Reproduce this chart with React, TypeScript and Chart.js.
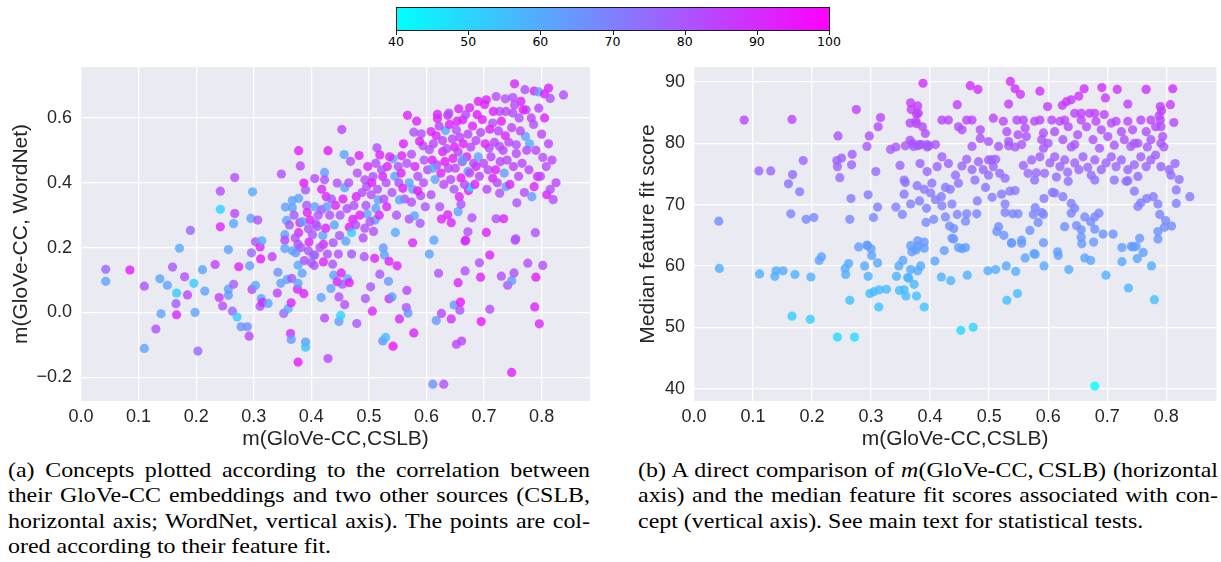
import React, { useEffect, useRef } from 'react';
import { Chart, registerables } from 'chart.js';

Chart.register(...registerables);

const SANS = '"Liberation Sans", Arial, sans-serif';
const SERIF = '"Liberation Serif", "Times New Roman", serif';
const TEXT = '#262626';

// colour bar (feature fit)
const cbMin = 40;
const cbMax = 100;
const cbTicks = [40, 50, 60, 70, 80, 90, 100];

// axes
const xTicks = [0, 0.1, 0.2, 0.3, 0.4, 0.5, 0.6, 0.7, 0.8];
const aYTicks = [-0.2, 0, 0.2, 0.4, 0.6];
const bYTicks = [40, 50, 60, 70, 80, 90];
const aXRange = [0, 0.884];
const aYRange = [-0.273, 0.757];
const bXRange = [0, 0.885];
const bYRange = [37.97, 92.45];

const xTitle = 'm(GloVe-CC,CSLB)';
const aYTitle = 'm(GloVe-CC, WordNet)';
const bYTitle = 'Median feature fit score';

// Panel (a): [m(GloVe-CC,CSLB), m(GloVe-CC,WordNet), feature fit]
const aLeft: number[][] = [
  [0.043,0.133,76],[0.043,0.096,62],[0.085,0.131,94],[0.110,0.081,80],[0.110,-0.111,62],[0.130,-0.051,82],[0.137,0.104,62],[0.139,-0.004,62],[0.150,0.084,62],[0.159,0.140,80],[0.165,0.027,78],[0.166,-0.007,92],[0.166,0.060,52],[0.171,0.198,60],[0.180,0.110,82],[0.185,0.054,84],[0.190,0.253,76],[0.196,0.090,52],[0.198,0.000,62],[0.203,-0.119,76],[0.211,0.132,62],[0.215,0.066,62],[0.233,0.148,85],[0.240,0.046,87],[0.242,0.374,82],[0.242,0.318,50],[0.242,0.264,92],[0.246,0.020,82],[0.256,0.194,62],[0.256,0.072,62],[0.256,0.053,64],[0.263,0.004,76],[0.265,0.087,78],[0.265,0.274,60],[0.267,0.416,82],[0.267,0.305,84],[0.271,-0.014,52],[0.274,0.141,92],[0.278,-0.044,66],[0.289,-0.044,66],[0.292,-0.073,84],[0.293,0.144,64],[0.295,0.290,62],[0.296,0.184,76],[0.297,0.071,84],[0.298,0.372,60],[0.303,0.084,60],[0.303,0.218,80],[0.307,0.285,82],[0.311,0.019,80],[0.311,0.202,92],[0.312,0.165,94],[0.313,0.043,60],[0.314,0.221,60],[0.315,0.031,92],[0.325,0.028,62],[0.332,0.172,85],[0.341,0.060,85],[0.342,0.124,66],[0.347,0.090,62],[0.348,0.427,82],
];
const aMid: number[][] = [
  [0.352,-0.003,76],[0.354,0.240,62],[0.354,0.223,84],[0.354,0.197,62],[0.357,0.284,62],[0.358,0.102,62],[0.360,0.012,60],[0.364,-0.065,90],[0.365,-0.083,64],[0.365,0.030,92],[0.366,0.105,80],[0.367,0.323,62],[0.367,0.345,62],[0.367,0.190,62],[0.373,0.184,64],[0.376,0.072,92],[0.377,-0.153,94],[0.377,0.146,60],[0.377,0.090,62],[0.377,0.210,82],[0.378,0.352,62],[0.378,0.246,92],[0.378,0.499,94],[0.380,0.277,90],[0.381,0.452,84],[0.384,0.121,62],[0.387,0.058,92],[0.387,0.399,96],[0.390,-0.091,64],[0.390,-0.107,54],[0.390,0.378,80],[0.392,0.330,80],[0.393,0.308,92],[0.395,0.258,80],[0.396,0.217,92],[0.400,0.153,80],[0.403,0.177,64],[0.406,0.413,82],[0.406,0.326,62],[0.406,0.177,80],[0.408,0.273,82],[0.410,0.265,80],[0.417,0.046,62],[0.418,0.317,80],[0.420,0.237,62],[0.421,0.156,92],[0.421,0.210,92],[0.423,0.432,62],[0.423,0.409,82],[0.423,-0.017,84],[0.426,0.357,92],[0.427,0.326,62],[0.429,0.499,94],[0.429,-0.142,84],[0.434,0.074,62],[0.437,0.149,80],[0.439,0.115,62],[0.445,0.095,92],[0.445,0.399,82],[0.448,0.048,82],[0.448,-0.028,64],[0.449,0.237,80],[0.451,-0.009,50],[0.452,0.122,92],[0.453,0.564,85],[0.454,0.087,80],[0.457,0.487,62],[0.458,0.385,62],[0.458,0.024,82],[0.463,0.104,60],[0.466,0.092,94],[0.466,0.263,94],[0.468,0.466,82],[0.470,0.246,52],[0.472,0.287,94],[0.478,0.357,94],[0.479,-0.034,80],[0.483,0.484,92],[0.492,0.172,80],[0.493,0.409,82],[0.493,0.260,82],[0.494,0.043,80],[0.496,0.388,82],[0.497,0.304,62],[0.503,0.079,80],[0.504,0.363,82],[0.506,0.004,92],[0.507,0.419,82],[0.510,0.167,92],[0.511,0.285,62],[0.512,0.321,62],[0.514,0.508,82],[0.516,0.347,62],[0.519,0.118,80],[0.519,0.486,92],[0.524,-0.088,66],[0.524,0.419,92],[0.525,0.199,64],[0.527,0.177,62],[0.529,-0.077,56],[0.531,0.326,92],[0.532,0.450,92],[0.534,0.096,64],[0.535,0.042,92],[0.535,0.158,92],[0.540,0.048,64],[0.542,-0.104,96],[0.542,0.474,62],[0.546,0.247,60],[0.549,0.144,92],
];
const aRight: number[][] = [
  [0.551,0.450,82],[0.553,-0.020,90],[0.553,0.347,62],[0.557,0.483,92],[0.559,0.383,92],[0.565,0.015,82],[0.566,0.068,84],[0.567,0.608,92],[0.568,-0.002,66],[0.570,0.288,82],[0.574,0.488,82],[0.576,0.380,62],[0.576,0.215,92],[0.578,-0.063,92],[0.578,0.556,82],[0.579,0.298,62],[0.583,0.590,92],[0.585,0.375,94],[0.589,0.275,80],[0.591,0.551,82],[0.594,0.514,82],[0.598,0.326,80],[0.605,0.502,82],[0.605,0.180,62],[0.608,0.558,92],[0.608,0.363,82],[0.611,-0.221,66],[0.613,0.223,62],[0.617,-0.025,64],[0.617,0.545,92],[0.619,0.611,92],[0.619,0.598,92],[0.621,0.121,82],[0.623,0.326,82],[0.626,-0.003,84],[0.626,0.288,92],[0.628,0.496,92],[0.630,-0.221,82],[0.633,0.561,60],[0.637,0.608,92],[0.637,0.301,92],[0.639,0.615,82],[0.643,-0.020,90],[0.643,0.277,92],[0.648,0.023,64],[0.649,0.510,94],[0.652,0.563,82],[0.652,-0.098,84],[0.655,0.092,92],[0.655,0.311,62],[0.656,0.628,92],[0.657,0.357,92],[0.658,0.007,82],[0.659,0.032,96],[0.660,0.334,82],[0.661,-0.088,84],[0.663,0.594,92],[0.667,0.220,82],[0.667,0.128,82],[0.668,0.223,92],[0.672,0.249,82],[0.672,0.435,62],[0.673,0.376,94],[0.675,0.631,92],[0.676,0.387,42],[0.679,0.292,82],[0.686,0.450,92],[0.690,0.651,92],[0.692,0.153,82],[0.694,0.109,92],[0.695,-0.028,96],[0.701,0.641,92],[0.704,0.656,92],[0.704,0.247,92],[0.709,0.507,82],[0.710,0.177,92],[0.710,0.010,82],[0.715,0.414,92],[0.715,0.584,82],[0.721,0.666,82],[0.721,0.289,82],[0.727,0.620,82],[0.727,0.512,82],[0.727,0.368,82],[0.730,0.112,82],[0.734,0.289,92],[0.737,0.659,82],[0.737,0.545,92],[0.738,0.388,62],[0.741,0.084,80],[0.748,0.098,64],[0.748,-0.185,92],[0.750,0.663,82],[0.750,0.615,82],[0.752,0.122,82],[0.753,0.705,92],[0.754,0.223,82],[0.755,0.227,82],[0.756,0.517,82],[0.757,0.338,82],[0.761,0.600,82],[0.764,0.651,92],[0.770,0.370,82],[0.771,0.687,82],[0.772,0.543,62],[0.773,0.625,82],[0.776,0.152,82],[0.779,0.520,60],[0.783,0.357,64],[0.786,0.580,82],[0.787,0.683,92],[0.787,0.388,92],[0.788,0.017,92],[0.789,0.246,82],[0.790,0.109,94],[0.793,0.419,92],[0.795,0.680,62],[0.796,-0.035,92],[0.802,0.145,82],[0.802,0.478,82],[0.805,0.674,92],[0.808,0.450,82],[0.809,0.363,94],[0.812,0.692,92],[0.815,0.660,82],[0.815,0.380,82],[0.820,0.348,82],[0.838,0.671,82],
];
const aDenseMid: number[][] = [
  [0.355,0.325,62],[0.362,0.270,80],[0.370,0.300,80],[0.372,0.230,82],[0.382,0.200,80],[0.385,0.280,62],[0.388,0.160,80],[0.395,0.190,80],[0.398,0.285,92],[0.402,0.240,80],[0.405,0.145,80],[0.412,0.300,80],[0.415,0.200,82],[0.418,0.380,92],[0.425,0.260,92],[0.428,0.180,82],[0.432,0.300,82],[0.435,0.350,80],[0.438,0.215,80],[0.440,0.270,62],[0.442,0.330,92],[0.447,0.180,82],[0.450,0.300,82],[0.455,0.350,92],[0.460,0.220,62],[0.462,0.320,82],[0.465,0.400,82],[0.470,0.180,80],[0.474,0.330,82],[0.477,0.270,82],[0.480,0.430,82],[0.484,0.300,92],[0.488,0.370,82],[0.490,0.230,82],[0.495,0.330,82],[0.498,0.450,92],[0.502,0.280,82],[0.505,0.400,92],[0.508,0.250,82],[0.512,0.460,82],[0.515,0.380,82],[0.518,0.300,92],[0.522,0.440,82],[0.526,0.350,82],[0.530,0.400,82],[0.536,0.480,92],[0.540,0.370,82],[0.545,0.420,62],[0.548,0.300,82],[0.552,0.400,82],[0.556,0.430,92],[0.562,0.350,82],[0.566,0.460,82],[0.570,0.400,62],[0.574,0.340,82],[0.580,0.450,92],[0.585,0.420,82],[0.590,0.360,82],[0.595,0.400,82],
];
const aDenseRight: number[][] = [
  [0.560,0.520,93],[0.588,0.528,93],[0.596,0.470,80],[0.602,0.440,84],[0.610,0.470,93],[0.612,0.520,84],[0.615,0.410,62],[0.618,0.455,84],[0.622,0.575,84],[0.625,0.430,93],[0.628,0.530,84],[0.630,0.395,84],[0.632,0.465,95],[0.635,0.505,84],[0.638,0.445,84],[0.640,0.580,93],[0.642,0.410,84],[0.645,0.535,84],[0.646,0.475,93],[0.648,0.380,80],[0.650,0.445,84],[0.653,0.590,93],[0.655,0.495,84],[0.658,0.540,84],[0.660,0.415,95],[0.662,0.465,84],[0.664,0.520,93],[0.666,0.395,84],[0.668,0.610,84],[0.670,0.480,93],[0.672,0.550,84],[0.675,0.430,84],[0.677,0.510,84],[0.680,0.575,93],[0.682,0.460,84],[0.684,0.395,93],[0.686,0.530,84],[0.688,0.610,95],[0.690,0.480,62],[0.692,0.420,84],[0.694,0.555,84],[0.697,0.595,93],[0.699,0.460,84],[0.702,0.520,93],[0.705,0.380,84],[0.707,0.440,84],[0.710,0.565,93],[0.712,0.480,84],[0.716,0.620,93],[0.718,0.525,84],[0.720,0.440,93],[0.723,0.400,84],[0.725,0.560,84],[0.728,0.465,84],[0.730,0.590,93],[0.733,0.500,84],[0.735,0.430,64],[0.738,0.620,84],[0.740,0.470,84],[0.743,0.525,84],[0.745,0.395,93],[0.748,0.570,84],[0.751,0.450,84],[0.753,0.640,84],[0.756,0.490,84],[0.760,0.420,84],[0.763,0.560,84],[0.766,0.460,84],[0.768,0.625,93],[0.774,0.500,84],[0.778,0.440,84],[0.782,0.600,84],[0.790,0.500,84],[0.795,0.630,84],[0.798,0.420,84],[0.800,0.550,84],[0.805,0.600,93],[0.812,0.520,84],[0.818,0.470,84],[0.825,0.400,84],[0.663,0.471,62],[0.611,0.445,62],
];

// Panel (b): [m(GloVe-CC,CSLB), median feature fit score]
const bLeft: number[][] = [
  [0.042,67.3],[0.043,59.6],[0.085,83.8],[0.110,75.5],[0.111,58.7],[0.130,75.5],[0.137,58.3],[0.139,59.2],[0.151,59.2],[0.160,73.4],[0.164,68.5],[0.166,83.9],[0.166,51.8],[0.167,74.9],[0.171,58.6],[0.179,72.1],[0.185,77.2],[0.190,67.6],[0.197,51.3],[0.198,58.2],[0.203,67.9],[0.212,60.9],[0.216,61.5],[0.242,77.2],[0.243,48.4],[0.243,76.2],[0.244,81.2],[0.247,74.4],[0.250,77.6],[0.256,59.6],[0.257,58.6],[0.262,60.4],[0.264,54.4],[0.264,67.6],[0.266,71.0],[0.267,76.5],[0.268,78.2],[0.272,48.4],[0.275,85.5],[0.279,63.1],[0.289,60.0],[0.293,63.4],[0.293,79.5],[0.294,63.3],[0.295,58.3],[0.295,71.6],[0.297,81.2],[0.298,55.5],[0.300,62.8],[0.301,61.7],[0.304,67.9],[0.305,55.8],[0.308,75.4],[0.311,60.5],[0.311,69.6],[0.312,82.7],[0.313,53.3],[0.314,56.1],[0.316,84.2],[0.326,56.2],[0.333,79.0],[0.342,79.4],[0.342,69.6],[0.343,58.3],[0.347,60.0],[0.348,56.0],[0.349,76.4],[0.353,68.4],[0.354,60.9],[0.356,56.1],[0.356,74.0],[0.356,71.7],[0.358,73.6],[0.358,79.6],[0.359,55.1],[0.362,58.1],[0.364,58.0],[0.366,83.3],[0.366,80.5],[0.367,86.6],[0.367,70.1],[0.367,63.3],[0.367,59.4],[0.368,85.5],[0.369,62.3],[0.372,79.5],[0.373,57.0],[0.376,62.6],[0.377,55.1],[0.377,84.8],[0.377,83.2],[0.378,73.1],[0.379,86.1],[0.379,59.2],[0.379,63.2],[0.379,79.6],[0.379,64.1],[0.382,70.6],[0.383,76.7],[0.384,60.0],[0.385,79.8],[0.387,82.7],[0.388,89.8],[0.390,62.9],[0.390,53.3],[0.390,72.5],[0.390,63.9],[0.392,81.6],[0.393,67.1],[0.394,69.4],[0.395,75.4],[0.395,79.4],
];
const bLower: number[][] = [
  [0.401,71.9],[0.406,67.6],[0.408,60.8],[0.409,70.8],[0.419,58.2],[0.419,71.3],[0.420,69.8],[0.424,62.5],[0.426,68.0],[0.426,72.8],[0.433,66.5],[0.434,72.5],[0.435,57.6],[0.437,64.5],[0.437,70.1],[0.440,64.4],[0.440,66.1],[0.446,68.4],[0.448,63.0],[0.452,49.5],[0.454,62.8],[0.460,63.0],[0.460,67.3],[0.462,68.5],[0.463,58.5],[0.473,50.0],[0.479,68.5],[0.480,70.6],[0.494,72.8],[0.498,59.2],[0.505,71.2],[0.511,59.4],[0.513,65.6],[0.516,66.4],[0.521,71.7],[0.525,65.0],[0.527,70.1],[0.527,68.7],[0.529,60.0],[0.530,54.4],[0.535,72.2],[0.538,63.7],[0.538,63.8],[0.540,68.5],[0.544,72.3],[0.545,59.1],[0.548,55.5],[0.549,68.5],[0.555,64.2],[0.555,63.7],[0.561,61.3],[0.569,65.8],[0.575,68.4],[0.576,62.0],[0.578,69.5],[0.578,61.9],[0.583,67.1],[0.589,68.7],[0.592,63.8],[0.592,68.4],[0.593,60.0],[0.593,71.0],[0.607,72.0],[0.611,71.9],[0.616,62.3],[0.617,61.7],[0.625,71.3],[0.628,66.4],[0.635,59.4],[0.639,70.2],[0.639,68.6],[0.645,69.4],[0.648,66.6],[0.656,65.9],[0.656,64.7],[0.657,63.6],[0.662,61.3],[0.662,68.0],[0.672,60.9],[0.672,67.2],[0.677,63.9],[0.679,40.4],[0.679,68.0],[0.679,66.0],[0.686,68.6],[0.693,65.2],[0.698,58.5],[0.710,65.2],[0.725,60.7],[0.725,63.0],[0.732,73.8],[0.736,56.4],[0.741,63.2],[0.744,63.1],[0.746,72.2],[0.749,63.2],[0.751,61.2],[0.752,69.7],[0.755,64.5],[0.757,70.3],[0.761,62.2],[0.767,71.0],[0.775,60.0],[0.778,71.3],[0.780,54.5],[0.786,70.1],[0.786,65.6],[0.786,64.4],[0.789,68.4],[0.797,66.3],[0.799,67.4],[0.809,66.5],[0.815,76.7],[0.817,72.4],[0.817,70.2],[0.822,74.1],[0.840,71.3],
];
const bBand: number[][] = [
  [0.398,79.6],[0.412,76.2],[0.420,77.8],[0.431,76.7],[0.443,74.8],[0.454,76.3],[0.462,77.4],[0.471,75.7],[0.482,77.0],[0.490,75.7],[0.499,74.8],[0.507,76.2],[0.511,77.4],[0.518,75.1],[0.499,77.3],[0.533,79.6],[0.544,79.4],[0.558,76.4],[0.566,75.1],[0.572,77.3],[0.580,75.2],[0.586,77.8],[0.592,79.2],[0.594,75.1],[0.603,76.8],[0.611,77.8],[0.614,74.5],[0.620,76.2],[0.628,77.3],[0.633,75.3],[0.639,79.4],[0.645,76.8],[0.652,75.7],[0.659,77.8],[0.667,76.1],[0.673,74.8],[0.679,77.3],[0.687,79.2],[0.690,75.7],[0.698,76.8],[0.707,77.8],[0.712,74.0],[0.715,76.2],[0.724,77.3],[0.735,75.7],[0.740,79.5],[0.746,76.5],[0.752,74.6],[0.757,77.8],[0.766,76.2],[0.774,77.3],[0.782,78.1],[0.791,76.2],[0.796,79.4],[0.805,75.7],[0.808,74.8],[0.768,79.4],[0.735,73.9],[0.679,74.0],[0.634,73.8],[0.577,74.0],[0.527,74.3],[0.476,74.0],[0.448,73.5],[0.403,73.5],[0.504,77.3],
];
const bUpper: number[][] = [
  [0.370,80.0],[0.381,79.8],[0.395,79.8],[0.409,79.8],[0.420,83.8],[0.431,83.8],[0.448,82.7],[0.454,82.2],[0.462,83.8],[0.471,83.8],[0.485,82.2],[0.485,80.8],[0.499,80.3],[0.507,84.1],[0.516,79.5],[0.524,83.6],[0.530,81.9],[0.533,80.3],[0.547,83.8],[0.549,81.4],[0.558,83.8],[0.561,82.5],[0.563,81.1],[0.577,83.6],[0.586,83.8],[0.592,81.7],[0.600,80.0],[0.606,83.8],[0.611,81.9],[0.620,83.6],[0.625,80.6],[0.634,82.7],[0.645,84.9],[0.650,81.4],[0.656,83.8],[0.665,82.7],[0.670,84.9],[0.676,80.6],[0.681,83.6],[0.690,82.2],[0.695,84.7],[0.701,81.1],[0.707,83.3],[0.715,83.6],[0.724,81.9],[0.729,80.6],[0.735,83.6],[0.743,82.2],[0.752,80.0],[0.757,83.8],[0.766,81.9],[0.774,80.6],[0.782,82.7],[0.791,82.7],[0.794,81.1],[0.791,80.0],[0.774,83.8],[0.746,80.0],[0.679,84.9],[0.656,84.9],[0.628,83.8],[0.589,80.6],[0.645,79.8],[0.712,79.7],[0.555,79.8],[0.471,79.5],
];
const bTop: number[][] = [
  [0.446,86.3],[0.468,89.4],[0.481,88.8],[0.536,90.1],[0.544,88.9],[0.553,88.0],[0.533,86.4],[0.586,88.5],[0.599,86.0],[0.624,86.2],[0.631,86.8],[0.639,87.1],[0.652,87.7],[0.661,88.9],[0.691,89.1],[0.697,87.4],[0.717,88.8],[0.735,86.4],[0.766,88.8],[0.811,88.9],[0.807,86.3],[0.790,86.0],[0.792,85.3],[0.788,84.5],[0.790,83.8],[0.813,83.4],[0.380,84.9],[0.376,83.6],
];

// caption lines
const capA = [
  '(a) Concepts plotted according to the correlation between',
  'their GloVe-CC embeddings and two other sources (CSLB,',
  'horizontal axis; WordNet, vertical axis). The points are col-',
  'ored according to their feature fit.',
];
const capB2 = 'axis) and the median feature fit scores associated with con-';
const capB3 = 'cept (vertical axis). See main text for statistical tests.';

function cool(v: number): string {
  const t = Math.min(1, Math.max(0, (v - cbMin) / (cbMax - cbMin)));
  return `rgba(${Math.round(255 * t)},${Math.round(255 * (1 - t))},255,0.8)`;
}

function fmt1(v: number): string {
  const s = Math.abs(v).toFixed(1);
  return v < -1e-9 ? '\u2212' + s : s;
}

const bgPlugin = {
  id: 'axbg',
  beforeDraw(chart: any) {
    const { ctx, chartArea } = chart;
    if (!chartArea) return;
    ctx.save();
    ctx.fillStyle = '#EAEAF2';
    ctx.fillRect(chartArea.left, chartArea.top, chartArea.right - chartArea.left, chartArea.bottom - chartArea.top);
    ctx.restore();
  },
};

type PanelProps = {
  left: number;
  top: number;
  width: number;
  height: number;
  padTop: number;
  padRight: number;
  yAxisWidth: number;
  xAxisHeight: number;
  xRange: number[];
  yRange: number[];
  yTicks: number[];
  yFmt: (v: number) => string;
  yTitle: string;
  yTitlePad: number;
  xs: number[];
  ys: number[];
  fits: number[];
};

function Panel(p: PanelProps) {
  const ref = useRef<HTMLCanvasElement>(null);
  useEffect(() => {
    const tickFont = { family: SANS, size: 18 };
    const titleFont = { family: SANS, size: 21 };
    const grid = { color: '#FFFFFF', lineWidth: 1.3, drawTicks: false };
    const chart = new Chart(ref.current as HTMLCanvasElement, {
      type: 'scatter',
      data: {
        datasets: [
          {
            data: p.xs.map((x, i) => ({ x, y: p.ys[i] })),
            pointBackgroundColor: p.fits.map(cool),
            pointBorderWidth: 0,
            pointRadius: 4.6,
            pointHoverRadius: 4.6,
            borderWidth: 0,
          } as any,
        ],
      },
      options: {
        responsive: false,
        animation: false,
        events: [],
        layout: { padding: { left: 0, right: p.padRight, top: p.padTop, bottom: 0 } },
        plugins: { legend: { display: false }, tooltip: { enabled: false } },
        scales: {
          x: {
            type: 'linear',
            min: p.xRange[0],
            max: p.xRange[1],
            afterBuildTicks: (s: any) => {
              s.ticks = xTicks.map((v) => ({ value: v }));
            },
            afterFit: (s: any) => {
              s.height = p.xAxisHeight;
            },
            grid,
            border: { display: false },
            ticks: {
              padding: 5,
              color: TEXT,
              font: tickFont,
              autoSkip: false,
              maxRotation: 0,
              callback: (v: any) => fmt1(Number(v)),
            },
            title: { display: true, text: xTitle, color: TEXT, font: titleFont, padding: { top: 0, bottom: 3 } },
          },
          y: {
            type: 'linear',
            min: p.yRange[0],
            max: p.yRange[1],
            afterBuildTicks: (s: any) => {
              s.ticks = p.yTicks.map((v) => ({ value: v }));
            },
            afterFit: (s: any) => {
              s.width = p.yAxisWidth;
            },
            grid,
            border: { display: false },
            ticks: {
              padding: 9,
              color: TEXT,
              font: tickFont,
              autoSkip: false,
              callback: (v: any) => p.yFmt(Number(v)),
            },
            title: { display: true, text: p.yTitle, color: TEXT, font: titleFont, padding: { top: p.yTitlePad, bottom: 0 } },
          },
        },
      } as any,
      plugins: [bgPlugin],
    });
    return () => chart.destroy();
  }, []);
  return (
    <canvas
      ref={ref}
      width={p.width}
      height={p.height}
      style={{ position: 'absolute', left: p.left, top: p.top, width: p.width, height: p.height }}
    />
  );
}

function ColorBar() {
  const left = 396;
  const width = 434;
  return (
    <>
      <div
        style={{
          position: 'absolute',
          left,
          top: 7,
          width,
          height: 24,
          boxSizing: 'border-box',
          border: '1px solid #1a1a1a',
          background: 'linear-gradient(to right, rgb(0,255,255), rgb(255,0,255))',
        }}
      />
      {cbTicks.map((v) => {
        const x = left + ((v - cbMin) / (cbMax - cbMin)) * (width - 1);
        return (
          <React.Fragment key={v}>
            <div style={{ position: 'absolute', left: x, top: 31, width: 1, height: 4, background: '#1a1a1a' }} />
            <div
              style={{
                position: 'absolute',
                left: x - 30,
                width: 60,
                top: 35,
                textAlign: 'center',
                font: '12.5px "DejaVu Sans", sans-serif',
                lineHeight: '13px',
                color: '#000',
              }}
            >
              {v}
            </div>
          </React.Fragment>
        );
      })}
    </>
  );
}

const CAP_STRETCH = 1.14;

const lineStyle = (left: number, top: number, width: number, justify: boolean): React.CSSProperties => ({
  position: 'absolute',
  left,
  top,
  width: width / CAP_STRETCH,
  transform: `scaleX(${CAP_STRETCH})`,
  transformOrigin: '0 0',
  fontFamily: SERIF,
  fontSize: 21,
  lineHeight: '25px',
  color: '#000',
  textAlign: justify ? 'justify' : 'left',
  textAlignLast: justify ? 'justify' : 'left',
});

export default function App() {
  const aAll = [...aLeft, ...aMid, ...aDenseMid, ...aRight, ...aDenseRight];
  const bAll = [...bLeft, ...bLower, ...bBand, ...bUpper, ...bTop];
  const capTops = [457.5, 483, 508.5, 534];
  return (
    <div style={{ position: 'absolute', left: 0, top: 0, width: 1221, height: 562, background: '#fff', overflow: 'hidden' }}>
      <ColorBar />
      <Panel
        left={0}
        top={45}
        width={600}
        height={410}
        padTop={22}
        padRight={10}
        yAxisWidth={81}
        xAxisHeight={54}
        xRange={aXRange}
        yRange={aYRange}
        yTicks={aYTicks}
        yFmt={fmt1}
        yTitle={aYTitle}
        yTitlePad={8.4}
        xs={aAll.map((d) => d[0])}
        ys={aAll.map((d) => d[1])}
        fits={aAll.map((d) => d[2])}
      />
      <Panel
        left={620}
        top={45}
        width={601}
        height={410}
        padTop={22}
        padRight={2}
        yAxisWidth={74}
        xAxisHeight={54}
        xRange={bXRange}
        yRange={bYRange}
        yTicks={bYTicks}
        yFmt={(v) => String(Math.round(v))}
        yTitle={bYTitle}
        yTitlePad={15.7}
        xs={bAll.map((d) => d[0])}
        ys={bAll.map((d) => d[1])}
        fits={bAll.map((d) => d[1])}
      />
      {capA.map((t, i) => (
        <div key={i} style={lineStyle(8, capTops[i], 582, i < 3)}>
          {t}
        </div>
      ))}
      <div style={lineStyle(638, capTops[0], 580, true)}>
        (b) A direct comparison of <i>m</i>(GloVe-CC,&#8201;CSLB) (horizontal
      </div>
      <div style={lineStyle(638, capTops[1], 580, true)}>{capB2}</div>
      <div style={lineStyle(638, capTops[2], 580, false)}>{capB3}</div>
    </div>
  );
}
